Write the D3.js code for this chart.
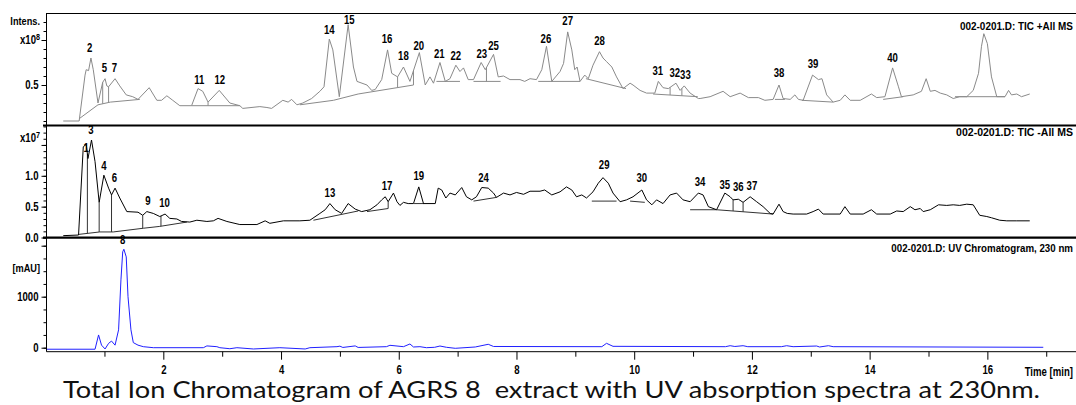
<!DOCTYPE html>
<html>
<head>
<meta charset="utf-8">
<script src="https://cdn.jsdelivr.net/npm/d3@7"></script>
<style>
  body { margin: 0; background: #fff; }
  svg { display: block; }
  .lbl { font-family: "Liberation Sans", Arial, sans-serif; font-weight: bold; fill: #000; }
</style>
</head>
<body>
<svg id="chart" width="1076" height="405"></svg>
<script>
/**
 * LC-MS printout: two total ion chromatograms (positive and negative mode)
 * stacked over the UV trace at 230 nm, sharing one time axis in minutes.
 * Every trace is a list of [time (min), signal] pairs.
 */

// Time axis.
var timeMajorTicks = [2, 4, 6, 8, 10, 12, 14, 16];
var timeMinorTicks = [1, 3, 5, 7, 9, 11, 13, 15, 17];

// Panel titles, top to bottom.
var panelTitles = [
  '002-0201.D: TIC +All MS',
  '002-0201.D: TIC -All MS',
  '002-0201.D: UV Chromatogram, 230 nm'
];

// TIC +All MS (x10^8).
var posTrace = [
  [0.30,0.10],[0.57,0.10],[0.67,0.61],[0.69,0.67],[0.73,0.66],[0.77,0.80],[0.81,0.67],[0.89,0.30],
  [0.97,0.53],[1.01,0.57],[1.04,0.49],[1.07,0.48],[1.18,0.57],[1.26,0.49],[1.37,0.39],[1.48,0.37],
  [1.57,0.34],[1.76,0.47],[1.89,0.33],[1.97,0.33],[2.06,0.38],[2.16,0.33],[2.28,0.27],[2.48,0.27],
  [2.59,0.46],[2.67,0.43],[2.76,0.31],[2.95,0.44],[3.13,0.30],[3.30,0.27],[3.35,0.24],[3.64,0.26],
  [3.76,0.25],[3.84,0.24],[4.03,0.33],[4.12,0.31],[4.18,0.34],[4.27,0.28],[4.37,0.30],[4.52,0.35],
  [4.66,0.43],[4.73,0.48],[4.82,1.01],[4.88,0.89],[4.99,0.37],[5.14,1.17],[5.23,0.70],[5.29,0.54],
  [5.46,0.50],[5.54,0.44],[5.60,0.45],[5.71,0.56],[5.81,0.89],[5.88,0.63],[5.98,0.59],[6.08,0.70],
  [6.19,0.54],[6.35,0.86],[6.45,0.50],[6.53,0.59],[6.59,0.52],[6.70,0.75],[6.79,0.54],[6.87,0.57],
  [6.97,0.72],[7.04,0.65],[7.10,0.69],[7.18,0.56],[7.27,0.56],[7.40,0.75],[7.47,0.67],[7.61,0.84],
  [7.69,0.59],[7.78,0.60],[7.89,0.56],[8.06,0.56],[8.14,0.54],[8.23,0.57],[8.34,0.56],[8.43,0.67],
  [8.51,0.93],[8.60,0.54],[8.74,0.65],[8.80,0.74],[8.87,1.09],[8.94,0.89],[8.99,0.67],[9.03,0.70],
  [9.08,0.54],[9.16,0.61],[9.22,0.57],[9.30,0.72],[9.41,0.87],[9.47,0.80],[9.53,0.76],[9.62,0.70],
  [9.70,0.59],[9.81,0.46],[9.93,0.52],[9.98,0.50],[10.10,0.44],[10.21,0.41],[10.35,0.41],[10.41,0.54],
  [10.49,0.47],[10.58,0.46],[10.71,0.52],[10.78,0.44],[10.85,0.49],[10.95,0.41],[11.09,0.35],[11.12,0.35],
  [11.29,0.37],[11.51,0.43],[11.63,0.37],[11.80,0.41],[11.94,0.36],[12.11,0.36],[12.22,0.33],[12.36,0.34],
  [12.46,0.50],[12.53,0.35],[12.65,0.34],[12.73,0.39],[12.79,0.34],[12.87,0.33],[13.03,0.61],[13.13,0.56],
  [13.19,0.57],[13.27,0.39],[13.38,0.31],[13.50,0.33],[13.58,0.39],[13.67,0.33],[13.84,0.33],[14.03,0.40],
  [14.12,0.36],[14.26,0.37],[14.39,0.69],[14.49,0.48],[14.54,0.37],[14.74,0.39],[14.88,0.43],[14.96,0.57],
  [15.03,0.43],[15.11,0.44],[15.20,0.41],[15.31,0.39],[15.42,0.35],[15.53,0.37],[15.65,0.37],[15.76,0.44],
  [15.85,0.63],[15.90,0.93],[15.94,1.07],[16.00,0.96],[16.07,0.59],[16.16,0.37],[16.30,0.37],[16.36,0.44],
  [16.41,0.39],[16.50,0.40],[16.58,0.37],[16.72,0.40]
];
var posBaselines = [
  [[0.58,0.13],[0.89,0.28],[1.10,0.31],[1.60,0.34]],
  [[2.48,0.27],[3.30,0.27]],
  [[4.32,0.28],[4.89,0.33],[5.31,0.40],[6.25,0.50]],
  [[6.64,0.54],[7.04,0.54]],
  [[7.27,0.54],[7.73,0.54]],
  [[8.37,0.54],[9.08,0.54]],
  [[9.18,0.57],[9.86,0.46]],
  [[10.32,0.40],[11.08,0.37]],
  [[12.39,0.34],[12.56,0.34]],
  [[12.85,0.33],[13.38,0.31]],
  [[14.23,0.34],[14.57,0.37]],
  [[15.45,0.37],[16.30,0.37]]
];
var posDrops = [0.97, 1.07, 2.76, 5.98, 6.25, 6.79, 7.49, 8.60, 10.61, 10.81];
var posPeakIds = ['2','5','7','11','12','14','15','16','18','20','21','22','23','25','26','27','28','31','32','33','38','39','40'];
var posPeakTimes = [0.75,1.00,1.17,2.61,2.96,4.82,5.16,5.80,6.08,6.34,6.69,6.97,7.41,7.61,8.50,8.87,9.41,10.40,10.69,10.87,12.46,13.04,14.39];
var posPeakLevels = [0.91,0.69,0.69,0.56,0.56,1.11,1.23,1.01,0.83,0.94,0.85,0.83,0.85,0.94,1.02,1.21,0.99,0.66,0.64,0.61,0.64,0.74,0.80];
var posTickValues = [0.5];
var posTickLabels = ['0.5'];

// TIC -All MS (x10^7).
var negTrace = [
  [0.30,0.03],[0.56,0.04],[0.64,1.47],[0.69,1.51],[0.72,1.28],[0.78,1.58],[0.84,1.23],[0.91,0.57],
  [0.99,1.01],[1.07,0.80],[1.12,0.69],[1.18,0.80],[1.26,0.64],[1.38,0.42],[1.57,0.41],[1.65,0.36],
  [1.72,0.42],[1.83,0.39],[1.94,0.34],[2.03,0.38],[2.11,0.31],[2.23,0.30],[2.31,0.26],[2.45,0.25],
  [2.57,0.28],[2.74,0.26],[2.85,0.27],[2.93,0.31],[3.08,0.26],[3.30,0.21],[3.59,0.21],[3.73,0.27],
  [3.81,0.23],[4.04,0.27],[4.32,0.27],[4.49,0.28],[4.66,0.39],[4.75,0.45],[4.83,0.55],[4.92,0.45],
  [5.03,0.39],[5.14,0.55],[5.26,0.46],[5.37,0.42],[5.51,0.45],[5.63,0.53],[5.71,0.61],[5.77,0.66],
  [5.82,0.58],[5.91,0.72],[5.97,0.58],[6.02,0.52],[6.08,0.57],[6.16,0.55],[6.25,0.55],[6.34,0.82],
  [6.42,0.55],[6.62,0.55],[6.67,0.80],[6.73,0.77],[6.80,0.64],[6.87,0.72],[6.96,0.69],[7.07,0.81],
  [7.15,0.66],[7.24,0.61],[7.32,0.66],[7.41,0.81],[7.52,0.80],[7.61,0.72],[7.66,0.65],[7.78,0.72],
  [7.89,0.69],[8.00,0.73],[8.12,0.70],[8.23,0.75],[8.40,0.75],[8.48,0.77],[8.60,0.69],[8.74,0.74],
  [8.85,0.82],[8.94,0.77],[9.02,0.66],[9.11,0.69],[9.19,0.64],[9.30,0.74],[9.39,0.88],[9.47,0.97],
  [9.56,0.88],[9.64,0.72],[9.76,0.58],[9.87,0.61],[9.98,0.66],[10.13,0.77],[10.21,0.61],[10.30,0.53],
  [10.38,0.61],[10.49,0.55],[10.61,0.69],[10.72,0.72],[10.83,0.61],[10.95,0.58],[11.09,0.72],[11.17,0.69],
  [11.26,0.50],[11.40,0.45],[11.54,0.72],[11.63,0.66],[11.68,0.61],[11.77,0.62],[11.85,0.57],[11.97,0.66],
  [12.08,0.58],[12.19,0.50],[12.31,0.39],[12.36,0.38],[12.46,0.54],[12.53,0.42],[12.60,0.39],[12.70,0.38],
  [12.93,0.38],[13.04,0.42],[13.13,0.46],[13.21,0.38],[13.50,0.38],[13.58,0.50],[13.67,0.38],[13.89,0.38],
  [14.03,0.45],[14.12,0.38],[14.35,0.38],[14.46,0.43],[14.57,0.42],[14.69,0.50],[14.77,0.45],[14.86,0.47],
  [14.91,0.42],[15.03,0.45],[15.17,0.53],[15.31,0.52],[15.42,0.53],[15.53,0.52],[15.65,0.54],[15.76,0.53],
  [15.87,0.36],[15.99,0.34],[16.07,0.32],[16.21,0.28],[16.33,0.27],[16.50,0.27],[16.72,0.27]
];
var negBaselines = [
  [[0.56,0.05],[0.92,0.09],[1.15,0.09],[1.66,0.15],[1.94,0.18],[2.40,0.25]],
  [[4.55,0.28],[5.31,0.43]],
  [[5.46,0.42],[5.82,0.47]],
  [[6.26,0.55],[6.43,0.55]],
  [[7.27,0.59],[7.66,0.65]],
  [[9.28,0.59],[9.70,0.59]],
  [[9.93,0.59],[10.18,0.57]],
  [[10.95,0.45],[11.40,0.45],[12.36,0.38]]
];
var negDrops = [0.71, 0.91, 1.12, 1.65, 1.96, 5.82, 11.68, 11.85];
var negPeakIds = ['1','3','4','6','9','10','13','17','19','24','29','30','34','35','36','37'];
var negPeakTimes = [0.69,0.77,0.99,1.17,1.74,2.02,4.83,5.80,6.34,7.44,9.49,10.13,11.12,11.54,11.77,12.00];
var negPeakLevels = [1.45,1.74,1.16,0.97,0.59,0.56,0.73,0.84,1.00,0.97,1.18,0.97,0.90,0.86,0.82,0.84];
var negTickValues = [0, 0.5, 1.0];
var negTickLabels = ['0.0', '0.5', '1.0'];

// UV chromatogram at 230 nm (mAU).
var uvTrace = [
  [0.02,-30],[0.84,-30],[0.90,250],[0.95,50],[1.01,-25],[1.07,85],[1.12,130],[1.18,50],
  [1.24,350],[1.28,1330],[1.31,1880],[1.33,1930],[1.37,1780],[1.40,1000],[1.45,350],[1.49,100],
  [1.57,50],[1.66,20],[1.83,0],[2.68,0],[2.74,35],[2.91,20],[2.96,0],[3.13,-20],
  [3.25,0],[3.53,-25],[3.98,0],[4.41,-25],[4.49,0],[4.95,20],[5.00,30],[5.05,5],
  [5.26,35],[5.31,5],[5.79,20],[5.85,47],[6.08,20],[6.19,73],[6.25,14],[6.36,20],
  [6.47,0],[6.61,8],[6.70,33],[6.81,8],[6.96,-12],[7.30,14],[7.52,67],[7.61,24],
  [9.45,20],[9.53,86],[9.64,27],[11.55,20],[11.63,39],[11.71,24],[11.85,39],[11.93,20],
  [12.50,20],[12.59,39],[12.70,20],[13.10,33],[13.15,14],[13.30,39],[13.38,20],[16.95,8]
];
var uvPeakIds = ['8'];
var uvPeakTimes = [1.31];
var uvPeakLevels = [2125];
var uvTickValues = [0, 1000];
var uvTickLabels = ['0', '1000'];

var caption = 'Total Ion Chromatogram of AGRS 8  extract with UV absorption spectra at 230nm.';

// Namespace for the chart, ch for chromatogram.
var ch = {

  // Horizontal layout: where 0 min sits and how wide a minute is.
  X_START: 45.6,
  PX_PER_MIN: 58.86,
  AXIS_X: 46.5,
  RIGHT: 1076,
  TIME_AXIS_Y: 351.7,

  // The printout uses a narrow bold face; squeeze Liberation Sans Bold to it.
  NARROW: 0.8,

  /**
   * Build scales and draw the three panels.
   */
  init: function() {
    var svg = d3.select('#chart');

    ch.x = d3.scaleLinear()
      .domain([0, 17])
      .range([ch.X_START, ch.X_START + 17 * ch.PX_PER_MIN]);

    var panels = [
      {
        top: 13, titleY: 30, titleW: 113,
        y: d3.scaleLinear().domain([0, 1]).range([130, 40]),
        trace: posTrace, color: '#8a8a8a', baseColor: '#8a8a8a',
        baselines: posBaselines, drops: posDrops,
        ids: posPeakIds, times: posPeakTimes, levels: posPeakLevels,
        minor: d3.range(1, 13).map(function(i) { return i / 10; }),
        major: [0.5, 1.0], tickValues: posTickValues, tickLabels: posTickLabels,
        exponent: '8', exponentAt: 1.0, unit: 'Intens.', unitAt: 1.21,
        title: panelTitles[0]
      },
      {
        top: 125.5, titleY: 136, titleW: 117,
        y: d3.scaleLinear().domain([0, 1]).range([237.5, 175.8]),
        trace: negTrace, color: '#000', baseColor: '#333',
        baselines: negBaselines, drops: negDrops,
        ids: negPeakIds, times: negPeakTimes, levels: negPeakLevels,
        minor: d3.range(0, 19).map(function(i) { return i / 10; }),
        major: [0, 0.5, 1.0, 1.5], tickValues: negTickValues, tickLabels: negTickLabels,
        exponent: '7', exponentAt: 1.61, unit: null,
        title: panelTitles[1]
      },
      {
        top: 237.7, titleY: 252, titleW: 182,
        y: d3.scaleLinear().domain([0, 1000]).range([347.7, 296.7]),
        trace: uvTrace, color: '#2020ff', baseColor: '#2020ff',
        baselines: [], drops: [],
        ids: uvPeakIds, times: uvPeakTimes, levels: uvPeakLevels,
        minor: d3.range(0, 9).map(function(i) { return i * 250; }),
        major: [0, 1000, 2000], tickValues: uvTickValues, tickLabels: uvTickLabels,
        exponent: null, unit: '[mAU]', unitAt: 1560,
        title: panelTitles[2]
      }
    ];

    panels.forEach(function(p) { ch.drawPanel(svg, p); });

    ch.drawFrame(svg);
    ch.drawTimeAxis(svg);

    // Caption under the printout.
    svg.append('text')
      .attr('x', 63)
      .attr('y', 398)
      .attr('textLength', 977)
      .attr('lengthAdjust', 'spacingAndGlyphs')
      .style('white-space', 'pre')
      .style('font-family', 'Lato, "Open Sans", sans-serif')
      .style('font-size', '23px')
      .style('fill', '#111')
      .text(caption);

    ch.condenseLabels(svg);
  },

  /**
   * Squeeze every printout label horizontally about its own anchor point.
   * A label can ask for an exact width through a data-width attribute.
   */
  condenseLabels: function(svg) {
    svg.selectAll('text.lbl').each(function() {
      var t = d3.select(this);
      var w = this.getComputedTextLength();
      var k = this.hasAttribute('data-width') ? +t.attr('data-width') / w : ch.NARROW;
      var x = +(t.attr('x') || 0);
      t.attr('transform',
        'translate(' + x + ',0) scale(' + k.toFixed(3) + ',1) translate(' + (-x) + ',0)');
    });
  },

  /**
   * Signal of a series at time t, by straight interpolation between points.
   */
  valueAt: function(series, t) {
    var i = d3.bisector(function(d) { return d[0]; }).left(series, t);
    if (i <= 0) return series[0][1];
    if (i >= series.length) return series[series.length - 1][1];
    var a = series[i - 1], b = series[i];
    return a[1] + (b[1] - a[1]) * (t - a[0]) / (b[0] - a[0]);
  },

  /**
   * Draw one panel: trace, integration baselines, drop lines, labels, y axis.
   */
  drawPanel: function(svg, p) {
    var line = d3.line()
      .x(function(d) { return ch.x(d[0]); })
      .y(function(d) { return p.y(d[1]); });

    // Integration baselines under the peaks.
    svg.append('g').selectAll('path')
      .data(p.baselines)
      .join('path')
        .attr('d', line)
        .attr('fill', 'none')
        .attr('stroke', p.baseColor)
        .attr('stroke-width', 1);

    // Vertical drop lines between neighbouring peaks.
    var drops = p.drops.map(function(t) {
      var seg = p.baselines.find(function(s) {
        return t >= s[0][0] && t <= s[s.length - 1][0];
      });
      return { t: t, hi: ch.valueAt(p.trace, t), lo: ch.valueAt(seg, t) };
    });
    svg.append('g').selectAll('line')
      .data(drops)
      .join('line')
        .attr('x1', function(d) { return ch.x(d.t); })
        .attr('x2', function(d) { return ch.x(d.t); })
        .attr('y1', function(d) { return p.y(d.hi); })
        .attr('y2', function(d) { return p.y(d.lo); })
        .attr('stroke', p.baseColor)
        .attr('stroke-width', 1);

    // The chromatogram itself.
    svg.append('path')
      .datum(p.trace)
      .attr('d', line)
      .attr('fill', 'none')
      .attr('stroke', p.color)
      .attr('stroke-width', 1);

    // Peak numbers.
    svg.append('g').selectAll('text')
      .data(p.ids)
      .join('text')
        .attr('class', 'lbl')
        .attr('x', function(d, i) { return ch.x(p.times[i]); })
        .attr('y', function(d, i) { return p.y(p.levels[i]); })
        .attr('dy', '0.36em')
        .attr('text-anchor', 'middle')
        .style('font-size', '12px')
        .text(function(d) { return d; });

    // Y axis: minor ticks, then the longer major ticks, some of them labelled.
    var axisG = svg.append('g').attr('transform', 'translate(' + ch.AXIS_X + ',0)');
    axisG.append('g')
      .call(d3.axisLeft(p.y).tickValues(p.minor).tickSize(3).tickFormat(''))
      .call(function(g) { g.select('.domain').remove(); });
    axisG.append('g')
      .call(d3.axisLeft(p.y).tickValues(p.major).tickSize(5).tickPadding(3)
        .tickFormat(function(v) {
          var k = p.tickValues.indexOf(v);
          return k < 0 ? '' : p.tickLabels[k];
        }))
      .call(function(g) {
        g.select('.domain').remove();
        g.selectAll('text')
          .filter(function() { return this.textContent === ''; })
          .remove();
        g.selectAll('text').attr('class', 'lbl').style('font-size', '12px');
      });

    if (p.unit) {
      svg.append('text')
        .attr('class', 'lbl')
        .attr('x', 40)
        .attr('y', p.y(p.unitAt))
        .attr('dy', '0.36em')
        .attr('text-anchor', 'end')
        .style('font-size', '11.5px')
        .text(p.unit);
    }
    if (p.exponent) {
      var ex = svg.append('text')
        .attr('class', 'lbl')
        .attr('x', 40)
        .attr('y', p.y(p.exponentAt))
        .attr('dy', '0.36em')
        .attr('text-anchor', 'end')
        .style('font-size', '12px');
      ex.append('tspan').text('x10');
      ex.append('tspan')
        .attr('dy', '-0.5em')
        .style('font-size', '9px')
        .text(p.exponent);
    }

    // Data file and trace name, top right of the panel.
    svg.append('text')
      .attr('class', 'lbl')
      .attr('x', 1073)
      .attr('y', p.titleY)
      .attr('text-anchor', 'end')
      .attr('data-width', p.titleW)
      .style('font-size', '11.5px')
      .text(p.title);
  },

  /**
   * Frame: left axis, top edge and the heavy rules between panels.
   */
  drawFrame: function(svg) {
    var g = svg.append('g').attr('stroke', '#000');
    g.append('line')
      .attr('x1', ch.AXIS_X).attr('x2', ch.AXIS_X)
      .attr('y1', 13).attr('y2', ch.TIME_AXIS_Y);
    g.append('line')
      .attr('x1', ch.AXIS_X).attr('x2', ch.RIGHT)
      .attr('y1', 13.5).attr('y2', 13.5);
    [125.5, 237.7].forEach(function(y) {
      g.append('line')
        .attr('x1', 43).attr('x2', ch.RIGHT)
        .attr('y1', y).attr('y2', y)
        .attr('stroke-width', 2.2);
    });
  },

  /**
   * Time axis shared by the three panels.
   */
  drawTimeAxis: function(svg) {
    var g = svg.append('g').attr('transform', 'translate(0,' + ch.TIME_AXIS_Y + ')');
    g.append('g')
      .call(d3.axisBottom(ch.x).tickValues(timeMinorTicks).tickSize(5).tickFormat(''))
      .call(function(a) { a.select('.domain').remove(); });
    g.append('g')
      .call(d3.axisBottom(ch.x).tickValues(timeMajorTicks).tickSize(8).tickPadding(6)
        .tickFormat(d3.format('d')))
      .call(function(a) {
        a.select('.domain').remove();
        a.selectAll('text').attr('class', 'lbl').style('font-size', '12px');
      });
    g.append('line')
      .attr('x1', ch.AXIS_X).attr('x2', ch.RIGHT)
      .attr('y1', 0).attr('y2', 0)
      .attr('stroke', '#000');
    g.append('text')
      .attr('class', 'lbl')
      .attr('x', 1073)
      .attr('y', 24)
      .attr('text-anchor', 'end')
      .style('font-size', '12px')
      .text('Time [min]');
  }
};

// Draw once the script has loaded.
ch.init();
</script>
</body>
</html>
